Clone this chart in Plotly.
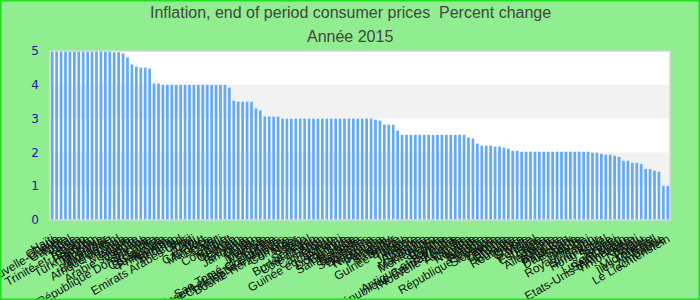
import plotly.graph_objects as go

countries = [
    "Haïti", "Ghana", "Papouasie-Nouvelle-Guinée", "Gambie", "Népal", "Inde", "Kenya",
    "Trinité-et-Tobago", "Égypte", "Pakistan", "Turkménistan", "Tanzanie", "Myanmar",
    "Indonésie", "Bangladesh", "Afrique du Sud", "Tonga", "Mexique", "Algérie",
    "Arabie saoudite", "Vanuatu", "Samoa", "République Dominicaine", "Sri Lanka",
    "Costa Rica", "Guatemala", "Philippines", "Namibie", "Bhoutan", "Tchad",
    "Emirats Arabes Unis", "Fidji", "Chili", "Pérou", "Cap-Vert", "Maldives", "Belize",
    "Qatar", "Mali", "Colombie", "Koweït", "Géorgie", "Bahreïn", "Guyana", "Jamaïque",
    "Oman", "Liban", "Maurice", "Malaisie", "Corée", "Sao Tomé-et-Principe",
    "Saint-Vincent-et-les Grenadines", "Saint-Christophe-et-Niévès", "Bosnie-Herzégovine",
    "Comores", "Niger", "Bénin", "Togo", "Sénégal", "Burkina Faso", "Côte d'Ivoire",
    "Gabon", "Cameroun", "Congo", "Guinée équatoriale", "Djibouti", "Dominique",
    "Grenade", "Sainte-Lucie", "Barbade", "Bahamas", "Seychelles", "Botswana",
    "Honduras", "Nicaragua", "Panama", "Paraguay", "Salvador", "Bolivie",
    "Guinée-Bissau", "Tunisie", "Maroc", "Jordanie", "Arménie", "Albanie", "Macédoine",
    "Monténégro", "Serbie", "Croatie", "Slovénie", "Antigua-et-Barbuda",
    "République Centrafricaine", "Nouvelle-Zélande", "Australie", "Canada", "Norvège",
    "Islande", "Hongrie", "Pologne", "République tchèque", "Slovaquie", "Estonie",
    "Lettonie", "Lituanie", "Bulgarie", "Roumanie", "Grèce", "Chypre", "Malte",
    "Portugal", "Espagne", "Italie", "France", "Allemagne", "Autriche", "Belgique",
    "Pays-Bas", "Danemark", "Suède", "Finlande", "Irlande", "Royaume-Uni", "Japon",
    "Singapour", "Hong Kong", "Israël", "Suisse", "Brunei", "Luxembourg", "Saint-Marin",
    "Etats-Unis d'Amérique", "Timor-Leste", "Kiribati", "Tuvalu", "Palaos",
    "Micronésie", "Îles Marshall", "Nauru", "Zimbabwe", "Le Liechtenstein",
]

values = (
    [5.0] * 14
    + [4.96, 4.96, 4.93, 4.81, 4.6, 4.54, 4.51, 4.51, 4.48, 4.04, 4.04]
    + [4.0] * 15
    + [3.92, 3.53, 3.5, 3.5, 3.5, 3.5, 3.3, 3.24, 3.06, 3.06, 3.06, 3.06]
    + [3.0] * 21
    + [2.97, 2.94, 2.82, 2.82, 2.82, 2.64]
    + [2.52] * 15
    + [2.44, 2.41, 2.26, 2.2, 2.2, 2.2, 2.17, 2.17, 2.14, 2.11, 2.05, 2.05]
    + [2.02] * 16
    + [1.99, 1.99, 1.96, 1.93, 1.93, 1.9, 1.87, 1.75, 1.75, 1.69, 1.69, 1.66,
       1.51, 1.51, 1.46, 1.43, 1.01, 1.01]
)

title_lines = ["Inflation, end of period consumer prices  Percent change", "Année 2015"]
y_ticks = [0, 1, 2, 3, 4, 5]
bands = [(1, 2), (3, 4)]

fig = go.Figure(go.Bar(x=countries, y=values, marker_color="#66aaf2",
                       marker_line_width=0))

shapes = [dict(type="rect", xref="paper", yref="y", x0=0, x1=1, y0=b0, y1=b1,
               fillcolor="#f2f2f2", line_width=0, layer="below") for b0, b1 in bands]
shapes.append(dict(type="rect", xref="paper", yref="paper", x0=0, x1=1, y0=0, y1=1,
                   line=dict(color="#d8d8d8", width=1.5), fillcolor="rgba(0,0,0,0)"))
# outer figure border
shapes.append(dict(type="rect", xref="paper", yref="paper",
                   x0=-50/620 + 0.001, x1=1 + 30/620 - 0.001,
                   y0=-80/169 + 0.003, y1=1 + 51/169 - 0.003,
                   line=dict(color="#22e022", width=2), fillcolor="rgba(0,0,0,0)"))

title_font = dict(family="Liberation Sans, Arial", size=16, color="#444444")
annotations = [
    dict(text=title_lines[0], xref="paper", yref="paper", x=0.5 - 10/620, y=1 + (51-13)/169,
         xanchor="center", yanchor="middle", showarrow=False, font=title_font),
    dict(text=title_lines[1], xref="paper", yref="paper", x=0.5 - 10/620, y=1 + (51-36)/169,
         xanchor="center", yanchor="middle", showarrow=False, font=title_font),
]

fig.update_layout(
    width=700, height=300,
    margin=dict(l=50, r=30, t=51, b=80),
    paper_bgcolor="#90ee90", plot_bgcolor="white",
    bargap=0.38,
    showlegend=False,
    shapes=shapes,
    annotations=annotations,
    font=dict(family="Liberation Sans, Arial"),
)
fig.update_xaxes(type="category", tickangle=-30, showgrid=False, ticks="",
                 tickmode="array", tickvals=countries, ticktext=countries,
                 tickfont=dict(size=12, color="#111111", family="Liberation Sans, Arial"),
                 ticklabelstandoff=9, automargin=False)
fig.update_yaxes(range=[0, 5], tickvals=y_ticks, showgrid=False, zeroline=False,
                 tickfont=dict(size=12, color="#1a1aa0", family="DejaVu Sans"),
                 ticklabelstandoff=10, automargin=False)

fig.write_html("out.html")
